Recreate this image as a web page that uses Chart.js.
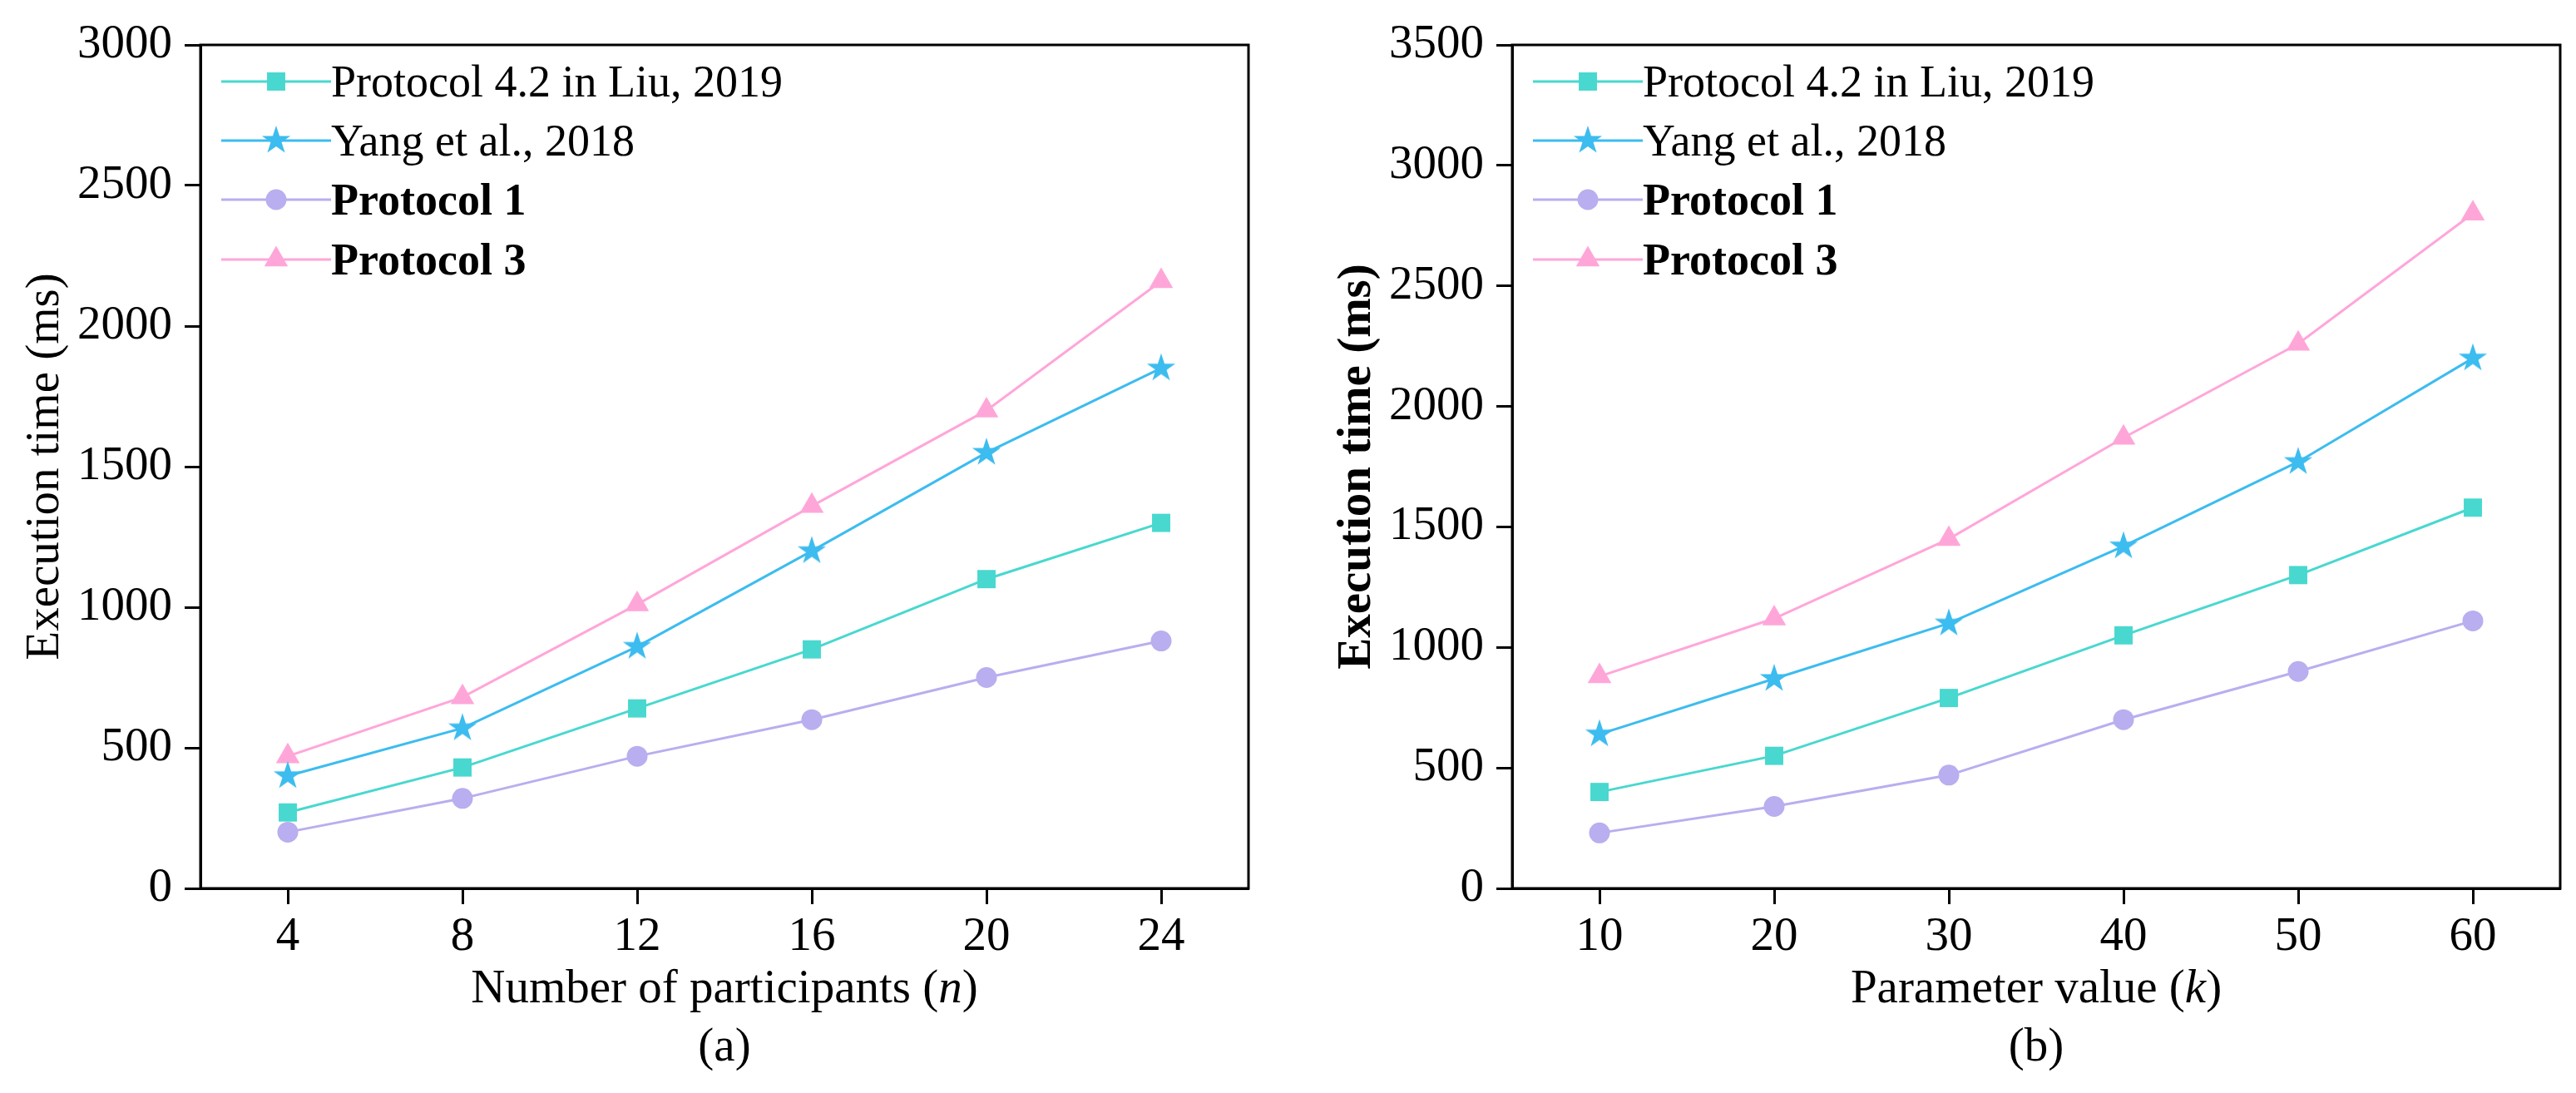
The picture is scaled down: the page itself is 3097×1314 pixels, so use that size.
<!DOCTYPE html>
<html>
<head>
<meta charset="utf-8">
<title>Execution time comparison</title>
<script src="https://cdn.jsdelivr.net/npm/chart.js@4.4.1/dist/chart.umd.min.js"></script>
<style>
  html, body { margin: 0; padding: 0; background: #fff; }
  body { width: 3097px; height: 1314px; position: relative; overflow: hidden;
         font-family: "Liberation Serif", "Times New Roman", serif; color: #000; }
  .panel { position: absolute; top: 0; height: 1314px; }
  .panel > canvas { position: absolute; left: 0; top: 0; }
  .legend { position: absolute; top: 62px; }
  .legend-row { display: flex; align-items: center; height: 71.4px; font-size: 54px; line-height: 54px; white-space: nowrap; }
  .legend-row canvas { display: block; }
  .xtitle, .caption { position: absolute; text-align: center; font-size: 57px; line-height: 57px; white-space: nowrap; }
</style>
</head>
<body>
<script>
// Execution time vs. n (a) and vs. k (b)

const seriesNames  = ['Protocol 4.2 in Liu, 2019', 'Yang et al., 2018', 'Protocol 1', 'Protocol 3'];
const seriesBold   = [false, false, true, true];

// (a) number of participants
const participants = [4, 8, 12, 16, 20, 24];
const liuByN       = [270, 430, 640, 850, 1100, 1300];
const yangByN      = [400, 570, 860, 1200, 1550, 1850];
const proto1ByN    = [200, 320, 470, 600, 750, 880];
const proto3ByN    = [470, 680, 1010, 1360, 1700, 2160];

// (b) parameter value k
const paramK       = [10, 20, 30, 40, 50, 60];
const liuByK       = [400, 550, 790, 1050, 1300, 1580];
const yangByK      = [640, 870, 1100, 1420, 1770, 2200];
const proto1ByK    = [230, 340, 470, 700, 900, 1110];
const proto3ByK    = [880, 1120, 1450, 1870, 2260, 2800];

const colors      = ['#48d8cf', '#3cbcef', '#b9aeef', '#ffa6d9'];
const FONT        = 'Liberation Serif';
const CANVAS_H    = 1314;
const PLOT_TOP    = 54;
const PLOT_BOTTOM = 1068;

Chart.defaults.font.family = FONT;
Chart.defaults.color = '#000';

function starImage(color, outer) {
  const inner = outer * 0.382;
  const size = Math.ceil(outer * 2) + 2;
  const c = document.createElement('canvas');
  c.width = c.height = size;
  const ctx = c.getContext('2d');
  ctx.fillStyle = color;
  ctx.beginPath();
  for (let i = 0; i < 10; i++) {
    const r = i % 2 ? inner : outer;
    const a = -Math.PI / 2 + i * Math.PI / 5;
    const px = size / 2 + r * Math.cos(a);
    const py = size / 2 + r * Math.sin(a);
    if (i === 0) ctx.moveTo(px, py); else ctx.lineTo(px, py);
  }
  ctx.closePath();
  ctx.fill();
  return c;
}

const markers = [
  { style: 'rect',                        radius: 15.5 },
  { style: starImage(colors[1], 18),      radius: 17 },
  { style: 'circle',                      radius: 12.5 },
  { style: 'triangle',                    radius: 16.5 },
];

const panels = [
  { id: 'a', left: 0,    width: 1540, axisLeft: 241,  axisRight: 1501, xMin: 2, xMax: 26,
    xValues: participants, yMax: 3000, series: [liuByN, yangByN, proto1ByN, proto3ByN],
    yTitleBold: false, xTitle: 'Number of participants (<i>n</i>)', caption: '(a)' },
  { id: 'b', left: 1550, width: 1547, axisLeft: 1818, axisRight: 3078, xMin: 5, xMax: 65,
    xValues: paramK, yMax: 3500, series: [liuByK, yangByK, proto1ByK, proto3ByK],
    yTitleBold: true, xTitle: 'Parameter value (<i>k</i>)', caption: '(b)' },
];

// full box round the plot area
const framePlugin = {
  id: 'frame',
  afterDraw(chart) {
    const { ctx, chartArea: a } = chart;
    ctx.save();
    ctx.strokeStyle = '#000';
    ctx.lineWidth = 3;
    ctx.strokeRect(a.left, a.top, a.right - a.left, a.bottom - a.top);
    ctx.restore();
  }
};

function drawMarker(ctx, i, x, y) {
  ctx.fillStyle = colors[i];
  const opts = { pointStyle: markers[i].style, radius: markers[i].radius, rotation: 0, borderWidth: 0 };
  if (Chart.helpers && Chart.helpers.drawPoint) {
    Chart.helpers.drawPoint(ctx, opts, x, y);
  }
}

function buildLegend(panel, rel) {
  const legend = document.createElement('div');
  legend.className = 'legend';
  legend.style.left = (rel + 25) + 'px';
  seriesNames.forEach((name, i) => {
    const row = document.createElement('div');
    row.className = 'legend-row';
    const c = document.createElement('canvas');
    c.width = 132; c.height = 44;
    const ctx = c.getContext('2d');
    ctx.strokeStyle = colors[i];
    ctx.lineWidth = 3;
    ctx.beginPath(); ctx.moveTo(0, 22); ctx.lineTo(132, 22); ctx.stroke();
    drawMarker(ctx, i, 66, 22);
    const label = document.createElement('span');
    label.textContent = name;
    label.style.fontWeight = seriesBold[i] ? 'bold' : 'normal';
    row.appendChild(c);
    row.appendChild(label);
    legend.appendChild(row);
  });
  panel.appendChild(legend);
}

panels.forEach(p => {
  const panel = document.createElement('div');
  panel.className = 'panel';
  panel.style.left = p.left + 'px';
  panel.style.width = p.width + 'px';
  document.body.appendChild(panel);

  const canvas = document.createElement('canvas');
  canvas.width = p.width;
  canvas.height = CANVAS_H;
  panel.appendChild(canvas);

  const rel = p.axisLeft - p.left;
  const plotW = p.axisRight - p.axisLeft;

  const tickFont = { family: FONT, size: 57 };
  const axisLine = { drawOnChartArea: false, tickLength: 19, tickWidth: 3, tickColor: '#000' };

  new Chart(canvas.getContext('2d'), {
    type: 'line',
    data: {
      datasets: p.series.map((vals, i) => ({
        label: seriesNames[i],
        data: vals.map((v, j) => ({ x: p.xValues[j], y: v })),
        borderColor: colors[i],
        backgroundColor: colors[i],
        borderWidth: 3,
        pointStyle: markers[i].style,
        pointRadius: markers[i].radius,
        pointBorderWidth: 0,
        pointBackgroundColor: colors[i],
        tension: 0,
        fill: false,
      }))
    },
    options: {
      responsive: false,
      animation: false,
      events: [],
      layout: { padding: { top: PLOT_TOP, right: p.width - (p.axisRight - p.left), bottom: 0, left: 0 } },
      plugins: { legend: { display: false }, tooltip: { enabled: false } },
      scales: {
        x: {
          type: 'linear', min: p.xMin, max: p.xMax,
          afterBuildTicks: s => { s.ticks = p.xValues.map(v => ({ value: v })); },
          afterFit: s => { s.height = CANVAS_H - PLOT_BOTTOM; },
          ticks: { font: tickFont, color: '#000', padding: 6, maxRotation: 0, autoSkip: false,
                   callback: v => String(v) },
          grid: axisLine,
          border: { color: '#000', width: 3 },
        },
        y: {
          type: 'linear', min: 0, max: p.yMax,
          afterFit: s => { s.width = rel; },
          ticks: { font: tickFont, color: '#000', padding: 15, stepSize: 500,
                   callback: v => String(v) },
          grid: axisLine,
          border: { color: '#000', width: 3 },
          title: {
            display: true,
            text: 'Execution time (ms)',
            color: '#000',
            font: { family: FONT, size: 57, weight: p.yTitleBold ? 'bold' : 'normal', lineHeight: 1 },
            padding: { top: rel - 186 - 28.5, bottom: 0 },
          },
        },
      },
    },
    plugins: [framePlugin],
  });

  buildLegend(panel, rel);

  const xt = document.createElement('div');
  xt.className = 'xtitle';
  xt.style.left = rel + 'px';
  xt.style.width = plotW + 'px';
  xt.style.top = '1157px';
  xt.innerHTML = p.xTitle;
  panel.appendChild(xt);

  const cap = document.createElement('div');
  cap.className = 'caption';
  cap.style.left = rel + 'px';
  cap.style.width = plotW + 'px';
  cap.style.top = '1227px';
  cap.textContent = p.caption;
  panel.appendChild(cap);
});
</script>
</body>
</html>
